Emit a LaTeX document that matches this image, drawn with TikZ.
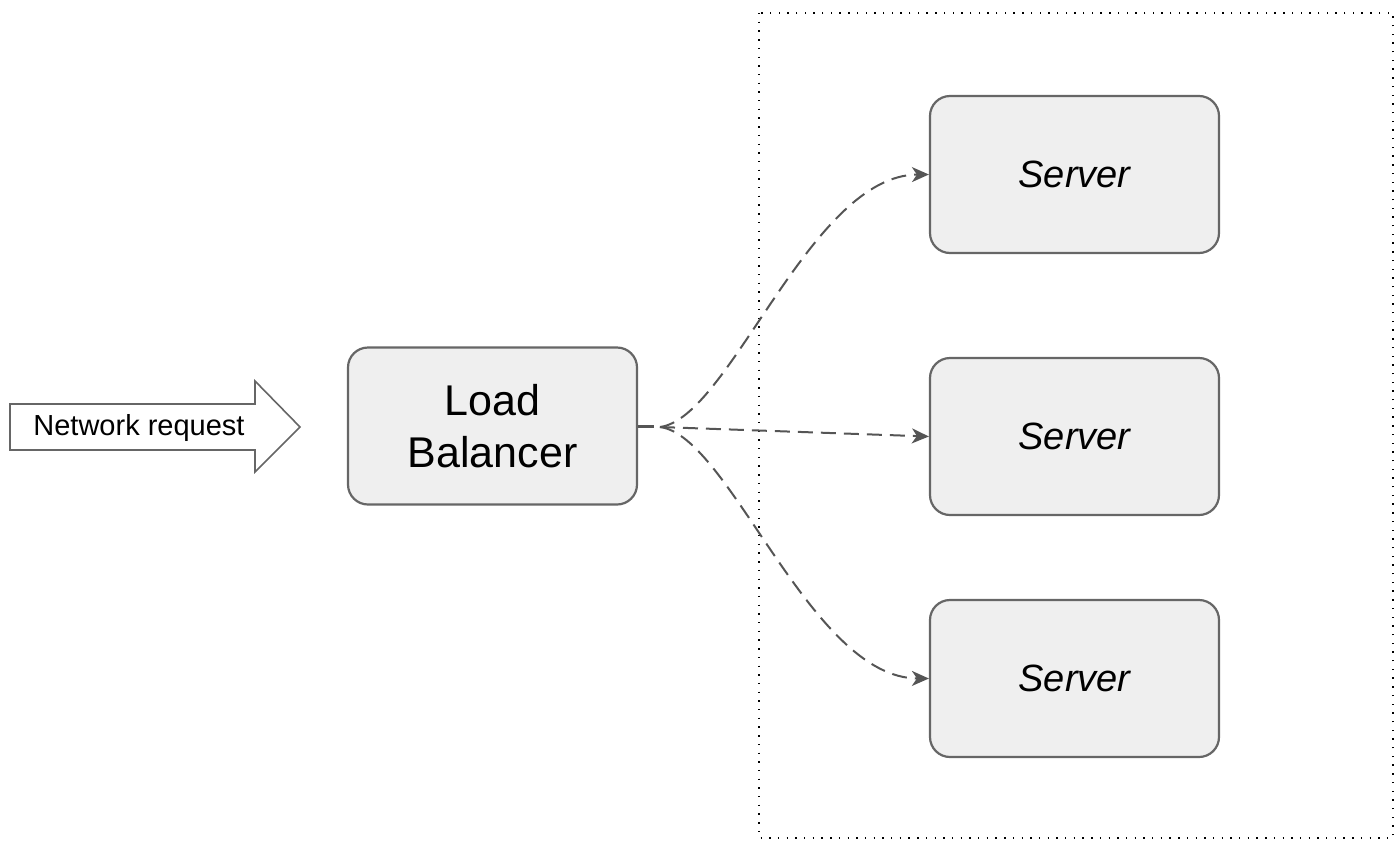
\documentclass[tikz,border=0pt]{standalone}
\usepackage{fontspec}
\setmainfont{Liberation Sans}
\usetikzlibrary{arrows.meta}
\definecolor{boxfill}{HTML}{EFEFEF}
\definecolor{boxline}{HTML}{666666}
\definecolor{conn}{HTML}{555555}
\begin{document}
\begin{tikzpicture}[x=1pt,y=-1pt,
  box/.style={draw=boxline,line width=2.2pt,fill=boxfill,rounded corners=20pt,
    minimum width=289pt,minimum height=157pt,inner sep=0pt,align=center},
  flow/.style={draw=conn,line width=2pt,dash pattern=on 15pt off 8pt,
    -{Stealth[length=17pt,width=15pt,inset=5pt]}},
  reqarrow/.style={draw=boxline,line width=1.6pt,fill=white}]
\useasboundingbox (0,0) rectangle (1400,857);
% dotted group
\draw[line width=1.4pt,dash pattern=on 1.4pt off 7.3pt] (759,13) rectangle (1393,838);
% network request arrow
\draw[reqarrow] (10,404) -- (255,404) -- (255,381) -- (300,427) -- (255,472) -- (255,450) -- (10,450) -- cycle;
\node[font=\fontsize{29}{34}\selectfont] (req) at (139,428) {Network request};
% nodes
\node[box,font=\fontsize{43}{52}\selectfont] (lb) at (492.5,426) {Load\\Balancer};
\node[box,font=\fontsize{38}{44}\selectfont\itshape] (s1) at (1074.5,174.5) {Server};
\node[box,font=\fontsize{38}{44}\selectfont\itshape] (s2) at (1074.5,436.5) {Server};
\node[box,font=\fontsize{38}{44}\selectfont\itshape] (s3) at (1074.5,678.5) {Server};
\coordinate (fan) at (660,427);
\draw[draw=conn,line width=3pt] (lb.east) -- ([xshift=16pt]lb.east);
\draw[flow] (fan) .. controls (730,418) and (810,175) .. (s1.west);
\draw[flow] (fan) -- (s2.west);
\draw[flow] (fan) .. controls (730,436) and (810,678) .. (s3.west);
\end{tikzpicture}
\end{document}
